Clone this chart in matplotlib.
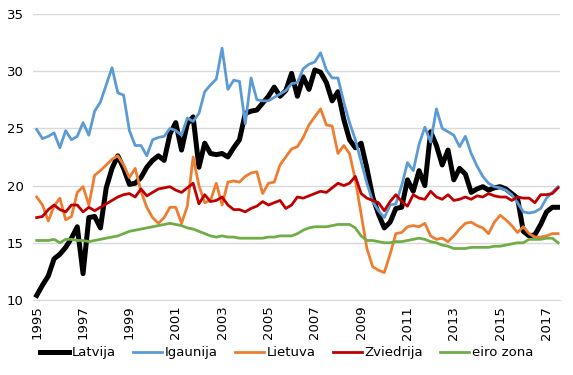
import matplotlib
matplotlib.use("Agg")
import matplotlib.pyplot as plt
import matplotlib.transforms as mtransforms

# quarterly values, 1995 Q1 .. 2017 Q3
latvija = [10.4, 11.3, 12.1, 13.6, 14.0, 14.6, 15.4, 16.4, 12.3, 17.2, 17.3, 16.3, 19.8, 21.5, 22.6, 21.5,
           20.1, 20.2, 20.7, 21.6, 22.2, 22.6, 22.2, 24.5, 25.5, 23.1, 25.4, 26.0, 21.6, 23.7, 22.8, 22.7,
           22.8, 22.5, 23.3, 24.0, 26.3, 26.5, 26.6, 27.2, 27.8, 28.6, 27.8, 28.3, 29.8, 27.8, 29.5, 28.4,
           30.1, 29.9, 29.0, 27.4, 28.2, 25.8, 24.0, 23.3, 23.7, 21.5, 19.0, 17.5, 16.3, 16.8, 18.0, 18.1,
           20.5, 19.5, 21.3, 20.0, 24.7, 23.5, 21.8, 23.1, 20.5, 21.5, 21.0, 19.4, 19.7, 19.9, 19.6, 19.8,
           19.9, 19.7, 19.3, 18.9, 16.0, 15.6, 15.7, 16.6, 17.7, 18.1, 18.1]
igaunija = [24.9, 24.1, 24.3, 24.6, 23.3, 24.8, 24.0, 24.3, 25.5, 24.4, 26.5, 27.3, 28.8, 30.3, 28.1, 27.9,
            24.8, 23.5, 23.5, 22.6, 24.0, 24.2, 24.3, 25.0, 24.8, 24.4, 25.9, 25.6, 26.3, 28.2, 28.8, 29.3,
            32.0, 28.4, 29.2, 29.1, 25.4, 29.4, 27.5, 27.4, 27.4, 27.7, 28.0, 28.3, 28.9, 29.0, 30.2, 30.6,
            30.8, 31.6, 30.1, 29.4, 29.4, 27.3, 25.5, 24.0, 22.1, 20.2, 18.6, 17.8, 17.2, 18.3, 18.4, 20.0,
            22.0, 21.3, 23.6, 25.1, 23.8, 26.7, 25.0, 24.7, 24.4, 23.4, 24.3, 22.8, 21.7, 20.8, 20.2, 19.9,
            19.8, 19.6, 19.2, 18.5, 17.7, 17.6, 17.7, 18.0, 18.9, 19.4, 19.9]
lietuva = [19.0, 18.3, 16.9, 18.2, 18.9, 17.0, 17.3, 19.4, 19.9, 18.3, 20.9, 21.3, 21.8, 22.3, 22.6, 21.8,
           20.7, 21.5, 19.5, 18.1, 17.2, 16.7, 17.2, 18.1, 18.1, 16.7, 18.2, 22.5, 20.0, 18.5, 18.7, 20.2,
           18.3, 20.3, 20.4, 20.3, 20.8, 21.1, 21.2, 19.3, 20.2, 20.3, 21.8, 22.5, 23.2, 23.4, 24.2, 25.3,
           26.0, 26.7, 25.3, 25.2, 22.8, 23.5, 22.8, 20.5, 17.5, 14.5, 12.9, 12.6, 12.4, 14.0, 15.8, 15.9,
           16.4, 16.5, 16.4, 16.7, 15.6, 15.3, 15.4, 15.1, 15.6, 16.2, 16.7, 16.8, 16.5, 16.3, 15.8, 16.8,
           17.4, 17.0, 16.5, 15.9, 16.4, 15.8, 15.5, 15.5, 15.6, 15.8, 15.8]
zviedrija = [17.2, 17.3, 17.9, 18.3, 17.9, 17.7, 18.3, 18.3, 17.7, 18.1, 17.8, 18.1, 18.4, 18.7, 19.0, 19.2,
             19.3, 19.0, 19.7, 19.1, 19.4, 19.7, 19.8, 19.9, 19.6, 19.4, 19.8, 20.2, 18.4, 19.2, 18.6, 18.7,
             19.0, 18.3, 17.9, 17.9, 17.7, 18.0, 18.2, 18.6, 18.3, 18.5, 18.7, 18.0, 18.3, 19.0, 18.9, 19.1,
             19.3, 19.5, 19.4, 19.8, 20.2, 20.0, 20.2, 20.8, 19.3, 18.9, 18.7, 18.5, 17.8, 18.6, 19.2, 18.6,
             18.2, 19.2, 18.9, 18.8, 19.5, 19.0, 18.8, 19.2, 18.7, 18.8, 19.0, 18.8, 19.1, 19.0, 19.3, 19.1,
             19.0, 19.0, 18.7, 19.0, 18.9, 18.9, 18.5, 19.2, 19.2, 19.3, 19.8]
eiro_zona = [15.2, 15.2, 15.2, 15.3, 15.0, 15.3, 15.3, 15.2, 15.2, 15.1, 15.2, 15.3, 15.4, 15.5, 15.6, 15.8,
             16.0, 16.1, 16.2, 16.3, 16.4, 16.5, 16.6, 16.7, 16.6, 16.5, 16.3, 16.2, 16.0, 15.8, 15.6, 15.5,
             15.6, 15.5, 15.5, 15.4, 15.4, 15.4, 15.4, 15.4, 15.5, 15.5, 15.6, 15.6, 15.6, 15.8, 16.1, 16.3,
             16.4, 16.4, 16.4, 16.5, 16.6, 16.6, 16.6, 16.3, 15.6, 15.2, 15.2, 15.1, 15.0, 15.0, 15.1, 15.1,
             15.2, 15.3, 15.4, 15.3, 15.1, 15.0, 14.8, 14.7, 14.5, 14.5, 14.5, 14.6, 14.6, 14.6, 14.6, 14.7,
             14.7, 14.8, 14.9, 15.0, 15.0, 15.3, 15.3, 15.3, 15.4, 15.4, 15.0]

year_labels = [str(y) for y in range(1995, 2018, 2)]
year_pos = list(range(0, 89, 8))

series = [("Latvija", latvija, "#000000", 3.6),
          ("Igaunija", igaunija, "#5B9BD5", 2.0),
          ("Lietuva", lietuva, "#ED7D31", 2.0),
          ("Zviedrija", zviedrija, "#C00000", 2.0),
          ("eiro zona", eiro_zona, "#70AD47", 2.0)]

plt.rcParams["font.family"] = "DejaVu Sans"
fig = plt.figure(figsize=(5.73, 3.75), dpi=100)
ax = fig.add_axes([0.058, 0.2, 0.919, 0.763])

x = list(range(len(latvija)))
for name, vals, col, lw in series:
    ax.plot(x, vals, color=col, lw=lw, label=name, solid_joinstyle="round")

ax.set_ylim(10, 35)
ax.set_yticks([10, 15, 20, 25, 30, 35])
ax.set_xlim(-0.6, 90.3)
ax.grid(axis="y", color="#D9D9D9", lw=1)
ax.set_axisbelow(True)
for s in ["top", "right", "left"]:
    ax.spines[s].set_visible(False)
ax.spines["bottom"].set_color("#D9D9D9")
ax.tick_params(axis="both", length=0, labelsize=9.5, colors="#000000")
ax.tick_params(axis="y", pad=7)

# year labels drawn as vertical text under the axis
ax.set_xticks(year_pos)
ax.set_xticklabels([])
trans = mtransforms.blended_transform_factory(ax.transData, ax.transAxes)
for pos, lab in zip(year_pos, year_labels):
    ax.text(pos, -0.02, lab, transform=trans, rotation="vertical",
            ha="center", va="top", fontsize=9.5)

fig.legend(loc="lower center", bbox_to_anchor=(0.5, 0.01), ncol=5, frameon=False,
           fontsize=9.5, handlelength=2.2, handletextpad=0.2, columnspacing=1.3)

fig.savefig("out.png", dpi=100)
